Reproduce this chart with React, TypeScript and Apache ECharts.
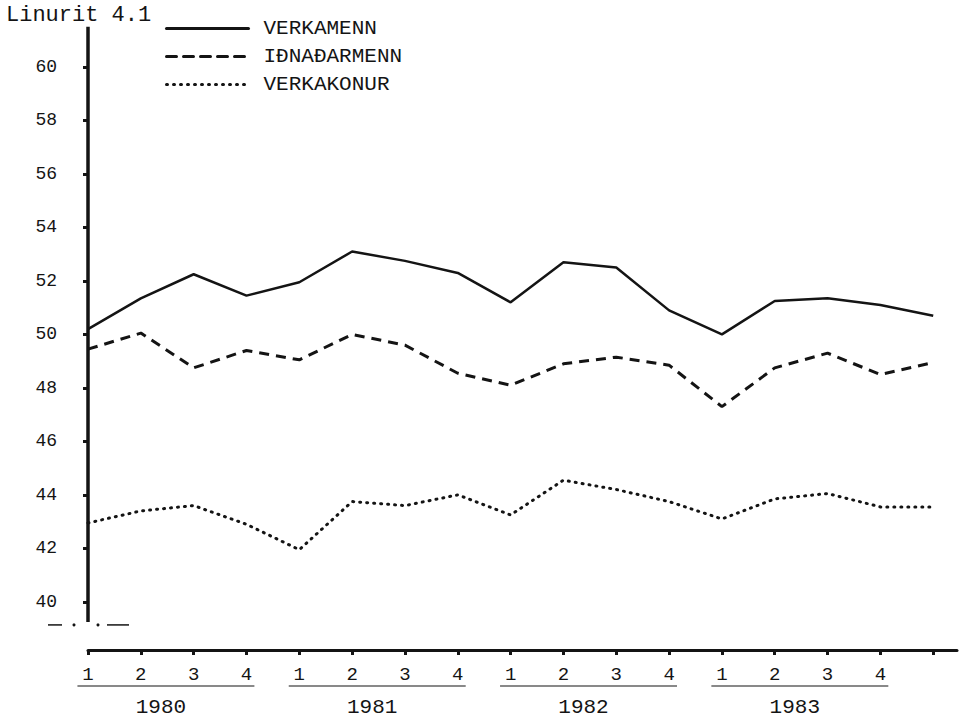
import React, { useEffect, useRef } from "react";
import * as echarts from "echarts";

const quarterLabels = ["1", "2", "3", "4", "1", "2", "3", "4", "1", "2", "3", "4", "1", "2", "3", "4"];
const years = ["1980", "1981", "1982", "1983"];
const yTicks = [40, 42, 44, 46, 48, 50, 52, 54, 56, 58, 60];
const seriesNames = ["VERKAMENN", "IÐNAÐARMENN", "VERKAKONUR"];
const verkamenn = [50.2, 51.35, 52.25, 51.45, 51.95, 53.1, 52.75, 52.3, 51.2, 52.7, 52.5, 50.9, 50.0, 51.25, 51.35, 51.1, 50.7];
const idnadarmenn = [49.45, 50.05, 48.75, 49.4, 49.05, 50.0, 49.6, 48.55, 48.1, 48.9, 49.15, 48.85, 47.3, 48.75, 49.3, 48.5, 48.95];
const verkakonur = [42.95, 43.4, 43.6, 42.9, 41.95, 43.75, 43.6, 44.0, 43.25, 44.55, 44.2, 43.75, 43.1, 43.85, 44.05, 43.55, 43.55];

const FONT = "'Liberation Mono', 'DejaVu Sans Mono', monospace";
const INK = "#141414";

export default function App() {
  const ref = useRef<HTMLDivElement>(null);
  useEffect(() => {
    if (!ref.current) return;
    const chart = echarts.init(ref.current, undefined, { renderer: "svg" });
    const xTickVals = Array.from({ length: verkamenn.length }, (_, i) => i);
    const option: any = {
      animation: false,
      backgroundColor: "#ffffff",
      textStyle: { fontFamily: FONT, color: INK },
      title: {
        text: "Linurit 4.1",
        left: 1,
        top: -1,
        textStyle: { fontFamily: FONT, fontSize: 22, fontWeight: "normal", color: INK },
      },
      legend: {
        left: 160,
        top: 13,
        orient: "vertical",
        itemWidth: 82,
        itemHeight: 14,
        itemGap: 7,
        data: seriesNames,
        itemStyle: { opacity: 0 },
        lineStyle: { width: 3, cap: "round" },
        textStyle: { fontFamily: FONT, fontSize: 21, color: INK, lineHeight: 21, padding: [0, 0, 0, 10] },
      },
      grid: { left: 88, right: 6, top: 13.5, bottom: 68 },
      xAxis: {
        type: "value",
        min: 0,
        max: 16.45,
        interval: 1,
        splitLine: { show: false },
        axisLine: { show: true, lineStyle: { color: INK, width: 3 } },
        axisTick: { show: true, customValues: xTickVals, length: 5, lineStyle: { color: INK, width: 3 } },
        axisLabel: {
          customValues: quarterLabels.map((_, i) => i),
          formatter: (v: number) => quarterLabels[Math.round(v)] ?? "",
          margin: 15,
          fontFamily: FONT,
          fontSize: 19,
          color: INK,
        },
      },
      yAxis: {
        type: "value",
        min: 38.2,
        max: 62,
        splitLine: { show: false },
        axisLine: { show: false },
        axisTick: { show: true, customValues: yTicks, length: 5, lineStyle: { color: INK, width: 3 } },
        axisLabel: {
          customValues: yTicks,
          margin: 31,
          fontFamily: FONT,
          fontSize: 18,
          color: INK,
        },
      },
      series: [
        {
          name: seriesNames[0],
          type: "line",
          symbol: "none",
          data: verkamenn.map((v, i) => [i, v]),
          lineStyle: { color: INK, width: 2.5, type: "solid" },
          itemStyle: { color: INK },
        },
        {
          name: seriesNames[1],
          type: "line",
          symbol: "none",
          data: idnadarmenn.map((v, i) => [i, v]),
          lineStyle: { color: INK, width: 3, type: [10, 7] },
          itemStyle: { color: INK },
        },
        {
          name: seriesNames[2],
          type: "line",
          symbol: "none",
          data: verkakonur.map((v, i) => [i, v]),
          lineStyle: { color: INK, width: 3, type: [1, 6], cap: "round" },
          itemStyle: { color: INK },
        },
      ],
    };
    chart.setOption(option);

    const px = (x: number, y: number) => chart.convertToPixel({ gridIndex: 0 }, [x, y]) as number[];
    const [axisX, axisTopY] = px(0, 61.5);
    const [, axisBotY] = px(0, 39.25);
    const graphics: any[] = [];
    graphics.push({
      type: "line",
      shape: { x1: axisX, y1: axisTopY, x2: axisX, y2: axisBotY },
      style: { stroke: INK, lineWidth: 3.5 },
    });
    const breakY = axisBotY + 3;
    graphics.push({ type: "line", shape: { x1: axisX - 40, y1: breakY, x2: axisX - 26, y2: breakY }, style: { stroke: INK, lineWidth: 1.5 } });
    graphics.push({ type: "circle", shape: { cx: axisX - 14, cy: breakY, r: 1.5 }, style: { fill: INK } });
    graphics.push({ type: "circle", shape: { cx: axisX + 10, cy: breakY, r: 1.5 }, style: { fill: INK } });
    graphics.push({ type: "line", shape: { x1: axisX + 19, y1: breakY, x2: axisX + 41, y2: breakY }, style: { stroke: INK, lineWidth: 1.5 } });

    years.forEach((yr, j) => {
      const start = j * 4;
      const [x1] = px(start - 0.2, 40);
      const [x2] = px(start + 3.15, 40);
      const [xc] = px(start + 1.38, 40);
      graphics.push({
        type: "line",
        shape: { x1, y1: 686, x2, y2: 686 },
        style: { stroke: INK, lineWidth: 1.2 },
      });
      graphics.push({
        type: "text",
        x: xc,
        y: 707,
        style: { text: yr, fill: INK, font: `21px ${FONT}`, align: "center", verticalAlign: "middle" },
      });
    });
    chart.setOption({ graphic: graphics });

    return () => chart.dispose();
  }, []);
  return <div ref={ref} style={{ position: "fixed", left: 0, top: 0, width: 963, height: 718 }} />;
}
